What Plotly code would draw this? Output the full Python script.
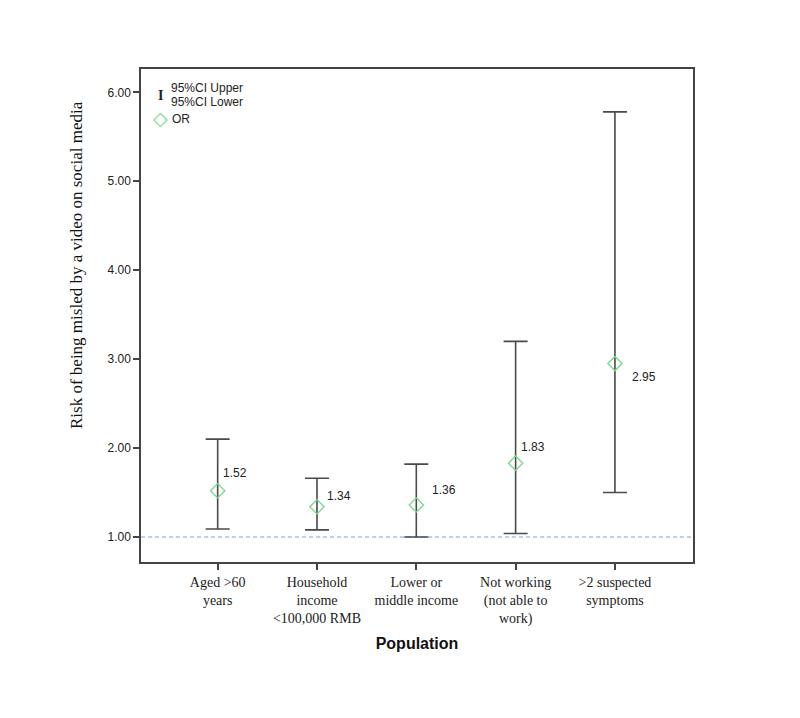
import plotly.graph_objects as go

categories = ["Aged &gt;60<br>years", "Household<br>income<br>&lt;100,000 RMB",
              "Lower or<br>middle income", "Not working<br>(not able to<br>work)",
              "&gt;2 suspected<br>symptoms"]
odds_ratio = [1.52, 1.34, 1.36, 1.83, 2.95]
ci_lower = [1.09, 1.08, 1.00, 1.04, 1.50]
ci_upper = [2.10, 1.66, 1.82, 3.20, 5.78]
reference_value = 1.0
y_ticks = [1, 2, 3, 4, 5, 6]
y_title = "Risk of being misled by a video on social media"
x_title = "Population"

# label offsets (pixels) for the value annotations: (xshift, yshift)
label_offsets = [(3, 18), (8, 11), (14, 15), (3, 16), (15, -13)]

x_idx = list(range(len(categories)))
err_plus = [u - o for u, o in zip(ci_upper, odds_ratio)]
err_minus = [o - l for o, l in zip(odds_ratio, ci_lower)]

fig = go.Figure()

# CI whiskers
fig.add_trace(go.Scatter(
    x=x_idx, y=odds_ratio, mode="markers",
    marker=dict(size=1, color="rgba(0,0,0,0)"),
    error_y=dict(type="data", symmetric=False, array=err_plus, arrayminus=err_minus,
                 color="#4a4a4a", thickness=1.6, width=12),
    showlegend=False, hoverinfo="skip"))

# OR diamonds
fig.add_trace(go.Scatter(
    x=x_idx, y=odds_ratio, mode="markers",
    marker=dict(symbol="diamond-open", size=11, color="#74d98a",
                line=dict(width=1.3, color="#74d98a")),
    showlegend=False))

# reference line
fig.add_shape(type="line", xref="paper", yref="y", x0=0, x1=1,
              y0=reference_value, y1=reference_value,
              line=dict(color="#9ec5ea", width=1.3, dash="4px,3px"), layer="below")

# value labels
for i, (o, (dx, dy)) in enumerate(zip(odds_ratio, label_offsets)):
    fig.add_annotation(x=i, y=o, text=f"{o:.2f}", showarrow=False,
                       xanchor="left", yanchor="middle", xshift=dx, yshift=dy,
                       font=dict(family="Liberation Sans, Arial", size=12, color="#222"))

# positions in paper fractions of the plot frame
PL, PT, PW, PH = 141, 69, 552, 493
def px(x): return (x - PL) / PW
def py(y): return (PT + PH - y) / PH

leg_font = dict(family="Liberation Sans, Arial", size=12, color="#222")
fig.add_annotation(xref="paper", yref="paper", x=px(160.7), y=py(95),
                   text="<b>I</b>", showarrow=False, xanchor="center", yanchor="middle",
                   font=dict(family="Liberation Serif", size=14, color="#222"))
fig.add_annotation(xref="paper", yref="paper", x=px(169), y=py(88.3),
                   text="95%CI Upper", showarrow=False, xanchor="left", yanchor="middle",
                   font=leg_font)
fig.add_annotation(xref="paper", yref="paper", x=px(169), y=py(102.3),
                   text="95%CI Lower", showarrow=False, xanchor="left", yanchor="middle",
                   font=leg_font)
fig.add_annotation(xref="paper", yref="paper", x=px(160.7), y=py(118),
                   text="◇", showarrow=False, xanchor="center", yanchor="middle",
                   font=dict(family="DejaVu Sans", size=19, color="#74d98a"))
fig.add_annotation(xref="paper", yref="paper", x=px(170), y=py(119),
                   text="OR", showarrow=False, xanchor="left", yanchor="middle",
                   font=leg_font)

# y-axis title
fig.add_annotation(xref="paper", yref="paper", x=px(76), y=py(265),
                   text=y_title, showarrow=False, textangle=-90,
                   xanchor="center", yanchor="middle",
                   font=dict(family="Liberation Serif, Times New Roman", size=17, color="#111"))

# page has an 8px body margin, so the figure is placed 8px in from the top-left
fig.update_layout(
    width=792, height=710,
    margin=dict(l=133, r=107, t=61, b=156),
    paper_bgcolor="white", plot_bgcolor="white",
    xaxis=dict(range=[-0.772, 4.786], tickmode="array", tickvals=x_idx,
               ticktext=categories, ticks="outside", ticklen=6, tickcolor="#444",
               tickwidth=1.5, showgrid=False, zeroline=False,
               showline=True, linecolor="#444", linewidth=1.5, mirror=True,
               tickfont=dict(family="Liberation Serif, Times New Roman", size=14, color="#222"),
               title=dict(text=f"<b>{x_title}</b>", standoff=12,
                          font=dict(family="Liberation Sans, Arial", size=16, color="#111"))),
    yaxis=dict(range=[0.719, 6.262], tickmode="array", tickvals=y_ticks,
               tickformat=".2f", ticks="outside", ticklen=6, tickcolor="#444",
               tickwidth=1.5, showgrid=False, zeroline=False,
               showline=True, linecolor="#444", linewidth=1.5, mirror=True,
               tickfont=dict(family="Liberation Sans, Arial", size=12, color="#222")),
)

fig.write_html("out.html")
